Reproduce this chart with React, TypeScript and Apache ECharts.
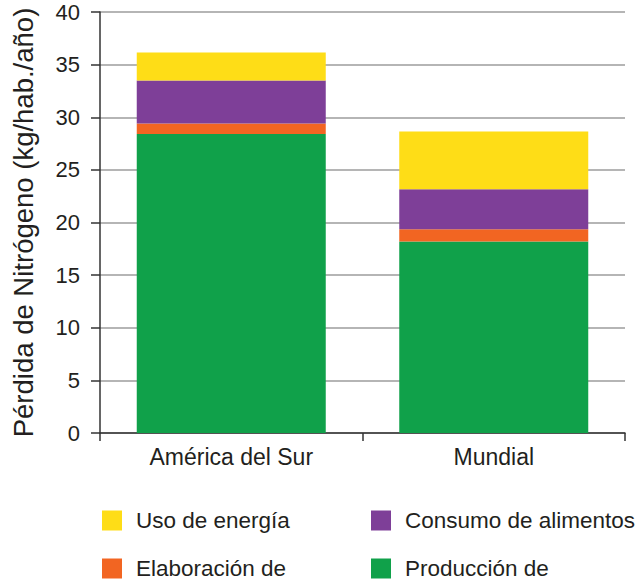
import React, { useEffect, useRef } from "react";
import * as echarts from "echarts";

const categories = ["América del Sur", "Mundial"];
const produccion = [28.4, 18.2];
const elaboracion = [1.0, 1.15];
const consumo = [4.1, 3.8];
const energia = [2.65, 5.5];
const yTicks = { min: 0, max: 40, interval: 5 };

const FONT = "'Liberation Sans', Arial, Helvetica, sans-serif";
const TXT = "#231f20";

export default function App() {
  const ref = useRef<HTMLDivElement>(null);
  useEffect(() => {
    if (!ref.current) return;
    const chart = echarts.init(ref.current, null, { renderer: "svg" });
    const mk = (name: string, data: number[], color: string) => ({
      name,
      type: "bar",
      stack: "total",
      data,
      barWidth: "72%",
      itemStyle: { color },
      emphasis: { disabled: true },
    });
    const legendBase = {
      orient: "vertical",
      top: 509,
      padding: 0,
      itemGap: 25,
      itemWidth: 20,
      itemHeight: 20,
      icon: "rect",
      selectedMode: false,
      textStyle: { fontSize: 22.5, color: TXT, fontFamily: FONT, padding: [0, 0, 0, 9] },
    };
    chart.setOption({
      animation: false,
      textStyle: { fontFamily: FONT, color: TXT },
      grid: { left: 100, right: 14, top: 12, bottom: 149, containLabel: false, outerBoundsMode: "none" },
      xAxis: {
        type: "category",
        data: categories,
        axisLine: { lineStyle: { color: "#333", width: 1.5 } },
        axisTick: { show: true, length: 8, lineStyle: { color: "#333", width: 1.5 } },
        axisLabel: { fontSize: 23, color: TXT, margin: 12, fontFamily: FONT },
      },
      yAxis: {
        type: "value",
        min: yTicks.min,
        max: yTicks.max,
        interval: yTicks.interval,
        name: "Pérdida de Nitrógeno (kg/hab./año)",
        nameLocation: "middle",
        nameGap: 63,
        nameTextStyle: { fontSize: 27.5, color: TXT, fontFamily: FONT },
        axisLine: { show: true, lineStyle: { color: "#333", width: 1.5 } },
        axisTick: { show: true, length: 9, lineStyle: { color: "#333", width: 1.5 } },
        axisLabel: { fontSize: 22, color: TXT, margin: 20, fontFamily: FONT },
        splitLine: { show: true, lineStyle: { color: "#b5b5b5", width: 2 } },
      },
      legend: [
        { ...legendBase, left: 102, data: ["Uso de energía", "Elaboración de"] },
        { ...legendBase, left: 371, data: ["Consumo de alimentos", "Producción de"] },
      ],
      series: [
        mk("Producción de", produccion, "#10a14a"),
        mk("Elaboración de", elaboracion, "#f26522"),
        mk("Consumo de alimentos", consumo, "#7e3f98"),
        mk("Uso de energía", energia, "#fedd17"),
      ],
    });
    return () => chart.dispose();
  }, []);
  return (
    <div
      ref={ref}
      style={{ position: "fixed", left: 0, top: 0, width: 639, height: 582, background: "#fff" }}
    />
  );
}
